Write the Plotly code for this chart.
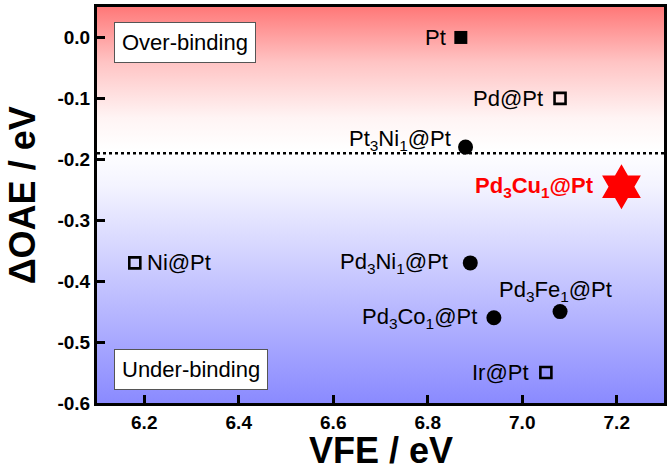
import plotly.graph_objects as go

# ---------------- data ----------------
names = ["Pt", "Pd@Pt", "Pt<sub>3</sub>Ni<sub>1</sub>@Pt", "Pd<sub>3</sub>Cu<sub>1</sub>@Pt",
         "Ni@Pt", "Pd<sub>3</sub>Ni<sub>1</sub>@Pt", "Pd<sub>3</sub>Fe<sub>1</sub>@Pt",
         "Pd<sub>3</sub>Co<sub>1</sub>@Pt", "Ir@Pt"]
vfe = [6.87, 7.08, 6.88, 7.21, 6.18, 6.89, 7.08, 6.94, 7.05]
doae = [0.0, -0.10, -0.18, -0.245, -0.37, -0.37, -0.45, -0.46, -0.55]
kind = ["filled_square", "open_square", "circle", "star", "open_square",
        "circle", "circle", "circle", "open_square"]
threshold = -0.19
x_range = [6.1, 7.3]
y_range = [-0.6, 0.05]
x_ticks = [6.2, 6.4, 6.6, 6.8, 7.0, 7.2]
y_ticks = [0.0, -0.1, -0.2, -0.3, -0.4, -0.5, -0.6]
x_title = "VFE / eV"
y_title = "ΔOAE / eV"

# ---------------- styles ----------------
FONT = "Arial, Liberation Sans, sans-serif"
marker_style = {
    "filled_square": dict(symbol="square", size=13, color="black", line=dict(width=0)),
    "open_square": dict(symbol="square-open", size=11, color="black", line=dict(width=2.6)),
    "circle": dict(symbol="circle", size=15, color="black", line=dict(width=0)),
    "star": dict(symbol="hexagram", size=34, color="#ff0000", line=dict(width=0)),
}
# label offsets (pixels): xanchor, xshift, yshift
label_pos = [
    ("right", -13, 0), ("right", -15, 0), ("right", -13, 7), ("right", -25, 0),
    ("left", 10, 0), ("right", -20, 0), ("center", -5, 21), ("right", -15, 0),
    ("right", -15, 0),
]

fig = go.Figure()

# gradient background
fig.add_trace(go.Scatter(
    x=[x_range[0], x_range[1], x_range[1], x_range[0], x_range[0]],
    y=[y_range[0], y_range[0], y_range[1], y_range[1], y_range[0]],
    mode="lines", line=dict(width=0), fill="toself",
    fillgradient=dict(type="vertical", colorscale=[
        [0.0, "#8a8aff"], [0.3, "#c4c4ff"], [0.55, "#f4f4ff"], [0.64, "#ffffff"],
        [0.72, "#fff4f4"], [0.86, "#ffc4c4"], [1.0, "#ff7878"]]),
    hoverinfo="skip", showlegend=False))

# threshold dotted line
fig.add_trace(go.Scatter(x=x_range, y=[threshold, threshold], mode="lines",
                         line=dict(color="black", width=2.5, dash="dot"),
                         showlegend=False, hoverinfo="skip"))

for n, xv, yv, k in zip(names, vfe, doae, kind):
    fig.add_trace(go.Scatter(x=[xv], y=[yv], mode="markers", marker=marker_style[k],
                             showlegend=False, name=n))

for n, xv, yv, k, (xa, xs, ys) in zip(names, vfe, doae, kind, label_pos):
    red = k == "star"
    fig.add_annotation(
        x=xv, y=yv, text=f"<b>{n}</b>" if red else n, showarrow=False,
        xanchor=xa, yanchor="middle", xshift=xs, yshift=ys,
        font=dict(family=FONT, size=22, color="#ff0000" if red else "black"))

# region boxes
for txt, yy in [("Over-binding", -0.008), ("Under-binding", -0.545)]:
    fig.add_annotation(x=x_range[0], y=yy, text=txt, showarrow=False,
                       xanchor="left", yanchor="middle", xshift=17,
                       font=dict(family=FONT, size=22, color="black"),
                       bgcolor="white", bordercolor="#555555", borderwidth=1, borderpad=7)

# axis titles
fig.add_annotation(xref="paper", yref="paper", x=0.5, y=-0.1667, text=f"<b>{x_title}</b>",
                   showarrow=False, xanchor="center", yanchor="bottom", height=34,
                   valign="middle", font=dict(family=FONT, size=36, color="black"))
fig.add_annotation(xref="paper", yref="paper", x=-0.132, y=0.525, text=f"<b>{y_title}</b>",
                   showarrow=False, xanchor="center", yanchor="middle", textangle=-90,
                   font=dict(family=FONT, size=36, color="black"))

axis_common = dict(showline=True, linecolor="black", linewidth=3, mirror=True,
                   ticks="inside", ticklen=8, tickwidth=2.5, tickcolor="black",
                   showgrid=False, zeroline=False, automargin=False,
                   tickfont=dict(family=FONT, size=19, color="black", weight="bold"))

fig.update_xaxes(range=x_range, tickvals=x_ticks, ticktext=[f"{v:.1f}" for v in x_ticks],
                 **axis_common)
fig.update_yaxes(range=y_range, tickvals=y_ticks, ticktext=[f"{v:.1f}" for v in y_ticks],
                 **axis_common)

fig.update_layout(width=672, height=469, plot_bgcolor="white", paper_bgcolor="white",
                  margin=dict(l=97, r=8, t=7, b=66), showlegend=False)

fig.write_html("out.html", config={"displayModeBar": False})

# remove the default page margin so the figure fills the window exactly
with open("out.html", encoding="utf-8") as f:
    html = f.read()
html = html.replace("<body>", '<body style="margin:0;padding:0;overflow:hidden">', 1)
with open("out.html", "w", encoding="utf-8") as f:
    f.write(html)
